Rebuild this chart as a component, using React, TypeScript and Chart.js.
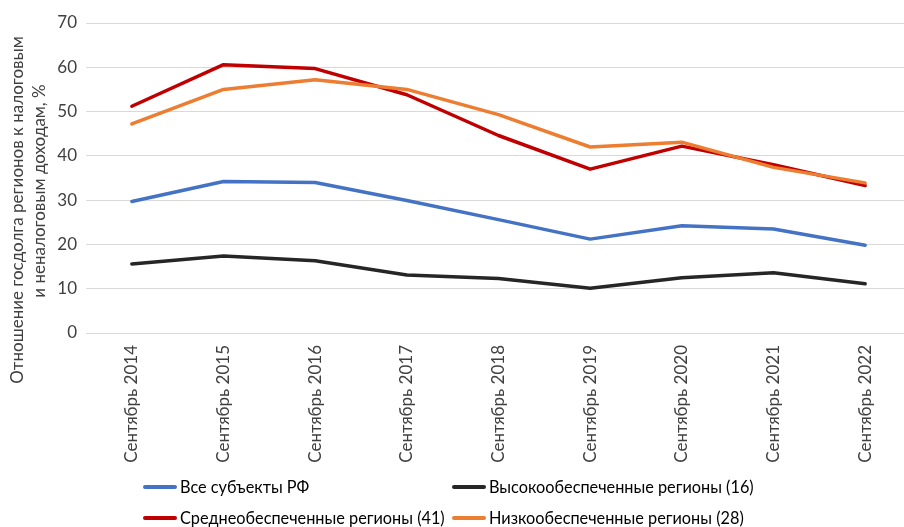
import React, { useEffect, useRef } from "react";
import { Chart, registerables } from "chart.js";

Chart.register(...registerables);

const categories = [
  "Сентябрь 2014",
  "Сентябрь 2015",
  "Сентябрь 2016",
  "Сентябрь 2017",
  "Сентябрь 2018",
  "Сентябрь 2019",
  "Сентябрь 2020",
  "Сентябрь 2021",
  "Сентябрь 2022",
];

const allRegions = [29.7, 34.2, 34.0, 29.9, 25.6, 21.2, 24.2, 23.5, 19.8];
const highRegions = [15.6, 17.4, 16.3, 13.1, 12.3, 10.1, 12.5, 13.6, 11.1];
const midRegions = [51.2, 60.6, 59.7, 53.8, 44.6, 37.0, 42.2, 38.0, 33.3];
const lowRegions = [47.2, 55.0, 57.2, 55.0, 49.3, 42.0, 43.1, 37.4, 33.9];

const seriesNames = [
  "Все субъекты РФ",
  "Высокообеспеченные регионы (16)",
  "Среднеобеспеченные регионы (41)",
  "Низкообеспеченные регионы (28)",
];
const seriesColors = ["#4472C4", "#262626", "#C00000", "#ED7D31"];

const yTitleLines = [
  "Отношение госдолга регионов к налоговым",
  "и неналоговым доходам, %",
];

const FONT = "Lato, 'Noto Sans', sans-serif";
const TEXT_COLOR = "#404040";

const yTitlePlugin = {
  id: "yTitle",
  afterDraw(chart: any) {
    const ctx = chart.ctx;
    ctx.save();
    ctx.font = `17px ${FONT}`;
    ctx.fillStyle = TEXT_COLOR;
    ctx.textAlign = "center";
    ctx.textBaseline = "middle";
    const pos = [
      [18, 210],
      [40, 191],
    ];
    yTitleLines.forEach((t, i) => {
      ctx.save();
      ctx.translate(pos[i][0], pos[i][1]);
      ctx.rotate(-Math.PI / 2);
      ctx.fillText(t, 0, 0);
      ctx.restore();
    });
    ctx.restore();
  },
};

export default function App() {
  const ref = useRef<HTMLCanvasElement | null>(null);

  useEffect(() => {
    if (!ref.current) return;
    const data = [allRegions, highRegions, midRegions, lowRegions];
    const orders = [2, 3, 1, 0];
    const chart = new Chart(ref.current, {
      type: "line",
      data: {
        labels: categories,
        datasets: data.map((d, i) => ({
          label: seriesNames[i],
          data: d,
          borderColor: seriesColors[i],
          backgroundColor: seriesColors[i],
          borderWidth: 3.5,
          pointRadius: 0,
          tension: 0,
          fill: false,
          order: orders[i],
          borderCapStyle: "round" as const,
          borderJoinStyle: "round" as const,
        })),
      },
      options: {
        responsive: false,
        animation: false,
        devicePixelRatio: 1,
        layout: { padding: { left: 0, right: 1, top: 23, bottom: 57 } },
        plugins: {
          legend: { display: false },
          tooltip: { enabled: false },
        },
        scales: {
          x: {
            offset: true,
            grid: { display: false, drawTicks: false },
            border: { display: false },
            ticks: {
              minRotation: 90,
              maxRotation: 90,
              autoSkip: false,
              padding: 12,
              color: TEXT_COLOR,
              font: { family: FONT, size: 17 },
            },
            afterFit: (s: any) => {
              s.height = 137;
            },
          },
          y: {
            min: 0,
            max: 70,
            ticks: {
              stepSize: 10,
              padding: 9,
              color: TEXT_COLOR,
              font: { family: FONT, size: 17 },
            },
            grid: { color: "#d9d9d9", lineWidth: 1, drawTicks: false },
            border: { display: false },
            afterFit: (s: any) => {
              s.width = 86;
            },
          },
        },
      },
      plugins: [yTitlePlugin],
    });
    return () => chart.destroy();
  }, []);

  const legendItems = [
    { i: 0, x: 143, y: 487 },
    { i: 1, x: 452, y: 487 },
    { i: 2, x: 143, y: 518 },
    { i: 3, x: 452, y: 518 },
  ];

  return (
    <div
      style={{
        position: "fixed",
        left: 0,
        top: 0,
        width: 904,
        height: 527,
        overflow: "hidden",
        background: "#fff",
      }}
    >
      <canvas ref={ref} width={912} height={527} style={{ display: "block" }} />
      {legendItems.map((it) => (
        <div key={it.i}>
          <div
            style={{
              position: "absolute",
              left: it.x,
              top: it.y - 2,
              width: 34,
              height: 4,
              borderRadius: 2,
              background: seriesColors[it.i],
            }}
          />
          <div
            style={{
              position: "absolute",
              left: it.x + 37,
              top: it.y - 12,
              height: 24,
              lineHeight: "24px",
              fontFamily: FONT,
              fontSize: 16.3,
              color: "#000",
              whiteSpace: "nowrap",
            }}
          >
            {seriesNames[it.i]}
          </div>
        </div>
      ))}
    </div>
  );
}
